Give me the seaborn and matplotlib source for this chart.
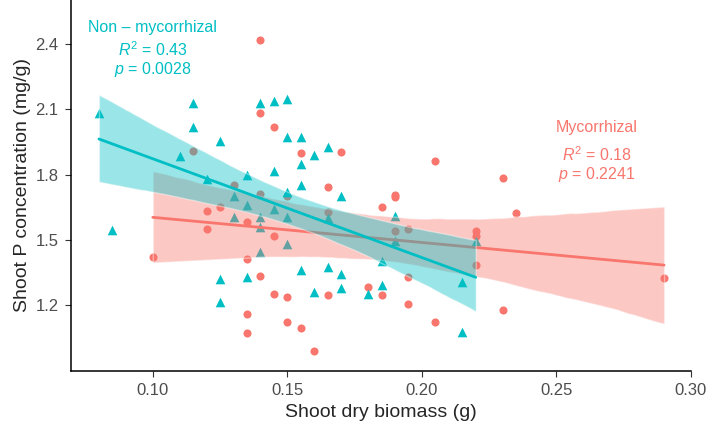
import numpy as np
import pandas as pd
import matplotlib
matplotlib.use("Agg")
import matplotlib.pyplot as plt
import seaborn as sns

# Non-mycorrhizal plants (triangles)
non_myc_biomass = [0.080, 0.085, 0.110, 0.115, 0.115, 0.120, 0.125, 0.125, 0.125,
                   0.130, 0.130, 0.135, 0.135, 0.135, 0.140, 0.140, 0.140, 0.140,
                   0.145, 0.145, 0.145, 0.150, 0.150, 0.150, 0.150, 0.150,
                   0.155, 0.155, 0.155, 0.155, 0.160, 0.160, 0.165, 0.165, 0.165,
                   0.170, 0.170, 0.170, 0.180, 0.185, 0.185, 0.190, 0.190,
                   0.215, 0.215, 0.220]
non_myc_p = [2.085, 1.546, 1.886, 2.130, 2.018, 1.780, 1.956, 1.322, 1.217,
             1.700, 1.607, 1.800, 1.659, 1.329, 2.128, 1.607, 1.561, 1.445,
             2.137, 1.818, 1.641, 2.146, 1.972, 1.720, 1.607, 1.480,
             1.972, 1.849, 1.751, 1.362, 1.890, 1.263, 1.929, 1.602, 1.377,
             1.700, 1.342, 1.281, 1.252, 1.405, 1.293, 1.610, 1.497,
             1.309, 1.076, 1.497]

# Mycorrhizal plants (circles)
myc_biomass = [0.100, 0.115, 0.120, 0.120, 0.125, 0.130, 0.135, 0.135, 0.135, 0.135,
               0.140, 0.140, 0.140, 0.140, 0.145, 0.145, 0.145, 0.150, 0.150, 0.150,
               0.155, 0.155, 0.160, 0.165, 0.165, 0.165, 0.170, 0.180, 0.185, 0.185,
               0.190, 0.190, 0.190, 0.195, 0.195, 0.195, 0.205, 0.205,
               0.220, 0.220, 0.220, 0.230, 0.230, 0.235, 0.290]
myc_p = [1.420, 1.910, 1.635, 1.552, 1.653, 1.751, 1.584, 1.411, 1.159, 1.074,
         2.420, 2.082, 1.710, 1.332, 2.018, 1.520, 1.250, 1.700, 1.237, 1.125,
         1.898, 1.094, 0.990, 1.745, 1.629, 1.246, 1.903, 1.283, 1.653, 1.246,
         1.707, 1.696, 1.543, 1.549, 1.331, 1.207, 1.861, 1.122,
         1.540, 1.520, 1.385, 1.783, 1.178, 1.625, 1.324]

non_myc_label = ["Non \u2013 mycorrhizal", r"$\it{R}^2$ = 0.43", r"$\it{p}$ = 0.0028"]
myc_label = ["Mycorrhizal", r"$\it{R}^2$ = 0.18", r"$\it{p}$ = 0.2241"]

teal = "#00BFC4"
salmon = "#F8766D"

df_non = pd.DataFrame({"biomass": non_myc_biomass, "p": non_myc_p})
df_myc = pd.DataFrame({"biomass": myc_biomass, "p": myc_p})

sns.set_style("white")
plt.rcParams["font.family"] = ["Liberation Sans", "DejaVu Sans"]
plt.rcParams["mathtext.fontset"] = "custom"
plt.rcParams["mathtext.rm"] = "Liberation Sans"
plt.rcParams["mathtext.it"] = "Liberation Sans:italic"

fig = plt.figure(figsize=(7.09, 4.34), dpi=100)
ax = fig.add_axes([0.1001, 0.1452, 0.8745, 0.8548])

# points first, then the fits on top (like ggplot layers)
sns.scatterplot(data=df_myc, x="biomass", y="p", color=salmon, marker="o",
                s=34, linewidth=0, ax=ax, zorder=2)
sns.scatterplot(data=df_non, x="biomass", y="p", color=teal, marker="^",
                s=48, linewidth=0, ax=ax, zorder=2)

n_before = len(ax.collections)
sns.regplot(data=df_myc, x="biomass", y="p", scatter=False, ci=98, n_boot=3000, seed=1,
            color=salmon, line_kws={"linewidth": 2.0, "zorder": 3}, ax=ax)
sns.regplot(data=df_non, x="biomass", y="p", scatter=False, ci=95, n_boot=3000, seed=1,
            color=teal, line_kws={"linewidth": 2.0, "zorder": 5}, ax=ax)

# ribbons more opaque than seaborn default
bands = ax.collections[n_before:]
bands[0].set_alpha(0.4)
bands[0].set_zorder(2.5)
bands[1].set_alpha(0.4)
bands[1].set_zorder(4)

for txt, yv in zip(non_myc_label, [2.475, 2.374, 2.282]):
    ax.text(0.10, yv, txt, color=teal, fontsize=11.5, ha="center", va="center")
for txt, yv in zip(myc_label, [2.015, 1.893, 1.800]):
    ax.text(0.265, yv, txt, color=salmon, fontsize=11.5, ha="center", va="center")

ax.set_xlim(0.0696, 0.30)
ax.set_ylim(0.898, 2.602)
ax.set_xticks([0.10, 0.15, 0.20, 0.25, 0.30])
ax.set_yticks([1.2, 1.5, 1.8, 2.1, 2.4])
ax.set_xticklabels(["0.10", "0.15", "0.20", "0.25", "0.30"])
ax.set_yticklabels(["1.2", "1.5", "1.8", "2.1", "2.4"])
ax.tick_params(axis="both", direction="out", length=4, width=0.8, color="#333333",
               labelsize=12, labelcolor="#4D4D4D", pad=5, left=True, bottom=True)

ax.set_xlabel("Shoot dry biomass (g)", fontsize=14, labelpad=4)
ax.set_ylabel("Shoot P concentration (mg/g)", fontsize=14, labelpad=3)

sns.despine(ax=ax)
for side in ["left", "bottom"]:
    ax.spines[side].set_color("black")
    ax.spines[side].set_linewidth(1.1)

fig.savefig("out.png", dpi=100)
